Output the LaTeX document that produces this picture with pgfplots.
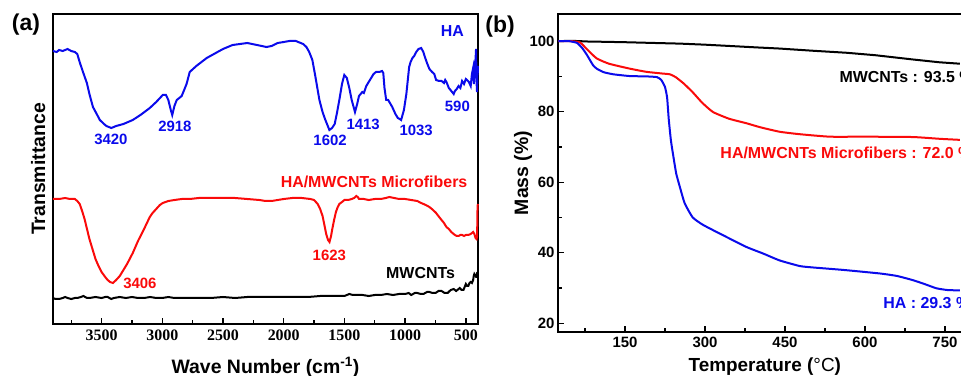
\documentclass[border=0pt]{standalone}
\usepackage{pgfplots}
\pgfplotsset{compat=1.18}
\usepackage{fontspec}
\setmainfont{Liberation Sans}
\newfontfamily\serifnum{Liberation Serif}
\definecolor{myblue}{RGB}{10,10,235}
\definecolor{myred}{RGB}{250,10,10}
\begin{document}
\begin{tikzpicture}
\path[use as bounding box] (0,0) rectangle (961bp,376bp);
\clip (0,0) rectangle (961bp,376bp);
% ---------------- panel (a) ----------------
\begin{axis}[
  at={(53bp,52bp)}, anchor=south west, scale only axis,
  width=425bp, height=310bp,
  xmin=400, xmax=3900, x dir=reverse, ymin=0, ymax=310,
  xtick={0,500,...,4000}, minor x tick num=1, ytick=\empty,
  xtick pos=bottom,
  tick align=inside, major tick length=6bp, minor tick length=4bp,
  axis line style={line width=1.6bp},
  every tick/.style={line width=1.3bp, black},
  /pgf/number format/1000 sep={}, /pgf/number format/assume math mode=true,
  xticklabel style={font=\fontsize{16}{16}\selectfont\serifnum\bfseries, yshift=-2bp},
  clip=false,
  xlabel={\fontsize{19.5}{20}\selectfont\bfseries Wave Number (cm\textsuperscript{-1})},
  xlabel style={at={(rel axis cs:0.5,-0.139)}, anchor=center},
  ylabel={\fontsize{19.5}{20}\selectfont\bfseries Transmittance},
  ylabel style={at={(rel axis cs:-0.035,0.5)}, anchor=center},
]
\addplot[myblue, line width=2bp] coordinates {
(3900,273)(3870,272)(3850,274)(3820,273)(3780,275)(3750,273)(3720,272)(3700,270)
(3678,261)(3650,251)(3621,241)(3600,230)(3571,217)(3540,210)(3514,204)(3480,200)(3460,198)
(3420,196)(3380,198)(3320,200)(3243,204)(3180,209)(3103,216)(3050,222)(2996,229)(2970,229)
(2950,224)(2930,214)(2918,209)(2900,218)(2881,224)(2860,226)(2840,228)(2800,240)(2774,252)
(2720,258)(2634,266)(2560,271)(2500,275)(2421,279)(2360,280)(2300,281)(2220,279)(2142,277)
(2100,278)(2050,281)(2000,282)(1953,283)(1900,283)(1880,282)(1840,280)(1813,277)(1790,272)
(1764,264)(1740,248)(1706,224)(1680,212)(1660,205)(1640,199)(1624,194)(1602,196)(1580,200)
(1560,212)(1542,224)(1520,240)(1501,249)(1480,246)(1460,236)(1440,224)(1413,212)(1395,220)
(1380,228)(1353,232)(1340,231)(1320,238)(1290,244)(1260,250)(1240,252)(1213,252)(1190,253)
(1180,251)(1170,236)(1156,224)(1140,224)(1130,222)(1106,217)(1080,210)(1060,206)(1045,205)
(1033,204)(1010,214)(990,230)(967,257)(955,262)(940,266)(925,268)(909,272)(890,275)(868,276)
(850,272)(840,268)(820,261)(800,255)(778,252)(760,250)(745,244)(720,243)(700,243)(680,241)
(670,244)(660,242)(640,236)(613,232)(600,230)(590,233)(575,235)(560,238)(545,236)(531,243)
(515,240)(500,245)(490,244)(475,242)(460,238)(450,250)(440,256)(434,240)(430,248)(424,262)
(420,265)(416,275)(412,243)(408,232)(405,245)(402,258)(400,251)
};
\addplot[myred, line width=2bp] coordinates {
(3900,125)(3850,125)(3800,126)(3760,125)(3720,125)(3700,123)(3680,120)(3660,113)(3640,105)
(3620,95)(3600,85)(3575,75)(3550,65)(3525,58)(3500,52)(3470,47)(3450,44)(3430,42)(3406,41)
(3380,44)(3350,48)(3320,54)(3290,60)(3260,67)(3243,71)(3200,83)(3150,95)(3103,107)(3080,111)
(3050,115)(3020,119)(2996,121)(2950,123)(2900,124)(2840,125)(2774,125)(2700,126)(2600,126)
(2500,126)(2400,126)(2300,125)(2200,124)(2150,123)(2100,123)(2050,124)(2000,125)(1930,126)
(1850,126)(1780,125)(1750,124)(1720,120)(1700,115)(1680,108)(1665,99)(1650,90)(1635,84)
(1623,82)(1610,88)(1600,95)(1585,104)(1570,112)(1555,117)(1542,120)(1520,122)(1500,124)
(1470,124)(1440,125)(1420,126)(1402,128)(1390,127)(1380,125)(1340,125)(1300,124)(1250,125)
(1200,125)(1160,126)(1130,127)(1090,126)(1050,125)(1000,125)(950,124)(900,123)(868,121)
(830,119)(800,117)(770,114)(745,111)(720,107)(700,104)(680,101)(660,97)(640,95)(620,92)
(600,90)(590,89)(575,88)(560,88)(545,89)(531,89)(515,88)(500,89)(480,89)(460,90)(440,92)
(430,90)(420,86)(412,85)(407,88)(405,110)(403,118)(401,120)
};
\addplot[black, line width=2bp] coordinates {
(3900,26)(3880,25)(3850,25)(3820,26)(3800,27)(3780,26)(3750,25)(3720,26)(3700,26)(3670,27)
(3650,28)(3620,26)(3600,26)(3550,27)(3500,26)(3470,27)(3450,27)(3420,25)(3400,26)(3350,27)
(3300,26)(3250,27)(3200,26)(3150,26)(3100,27)(3050,26)(3000,26)(2950,27)(2900,26)(2850,26)
(2800,26)(2700,26)(2600,26)(2500,27)(2400,26)(2300,27)(2200,27)(2100,27)(2000,27)(1900,27)
(1800,27)(1700,28)(1600,28)(1550,28)(1500,28)(1460,30)(1430,29)(1400,29)(1350,29)(1300,28)
(1250,29)(1200,29)(1150,30)(1100,29)(1050,30)(1000,30)(970,31)(950,29)(920,31)(900,31)
(870,30)(850,30)(820,32)(800,32)(775,31)(750,31)(725,33)(700,33)(675,31)(650,31)(625,34)
(600,35)(580,33)(560,35)(550,36)(535,34)(520,34)(510,37)(500,40)(490,38)(480,38)(470,41)
(460,42)(450,41)(440,44)(435,48)(430,50)(425,49)(420,49)(415,47)(410,47)(407,51)(405,52)
};
\node[myblue, font=\fontsize{16}{16}\selectfont\bfseries] at (axis cs:611,293) {HA};
\node[myblue, font=\fontsize{15}{15}\selectfont\bfseries] at (axis cs:3423,185) {3420};
\node[myblue, font=\fontsize{15}{15}\selectfont\bfseries] at (axis cs:2896,198) {2918};
\node[myblue, font=\fontsize{15}{15}\selectfont\bfseries] at (axis cs:1618,184) {1602};
\node[myblue, font=\fontsize{15}{15}\selectfont\bfseries] at (axis cs:1346,200) {1413};
\node[myblue, font=\fontsize{15}{15}\selectfont\bfseries] at (axis cs:909,194) {1033};
\node[myblue, font=\fontsize{15}{15}\selectfont\bfseries] at (axis cs:570,218) {590};
\node[myred, font=\fontsize{16}{16}\selectfont\bfseries] at (axis cs:1256,142) {HA/MWCNTs Microfibers};
\node[myred, font=\fontsize{15}{15}\selectfont\bfseries] at (axis cs:3184,41) {3406};
\node[myred, font=\fontsize{15}{15}\selectfont\bfseries] at (axis cs:1624,69) {1623};
\node[black, font=\fontsize{16}{16}\selectfont\bfseries] at (axis cs:873,51) {MWCNTs};
\end{axis}
% ---------------- panel (b) ----------------
\begin{axis}[
  at={(558bp,44bp)}, anchor=south west, scale only axis,
  width=413.6bp, height=318bp,
  xmin=24.4, xmax=800, ymin=17.5, ymax=107.7,
  xtick={0,150,...,900}, minor x tick num=1,
  ytick={0,20,...,120}, minor y tick num=1,
  xtick pos=bottom, ytick pos=left,
  tick align=inside, major tick length=6bp, minor tick length=4bp,
  axis line style={line width=1.6bp},
  every tick/.style={line width=1.3bp, black},
  /pgf/number format/assume math mode=true,
  ticklabel style={font=\fontsize{15}{15}\selectfont\bfseries},
  xticklabel style={yshift=-2bp},
  clip=false,
  xlabel={\fontsize{19}{20}\selectfont\bfseries Temperature ({\mdseries °C})},
  xlabel style={at={(rel axis cs:0.5,-0.110)}, anchor=center},
  ylabel={\fontsize{19.5}{20}\selectfont\bfseries Mass (\%)},
  ylabel style={at={(rel axis cs:-0.0846,0.5)}, anchor=center},
]
\addplot[black, line width=2bp] coordinates {
(25,100)(50,100.1)(80,99.9)(116,99.8)(150,99.7)(200,99.5)(253,99.3)(300,99.0)(350,98.6)
(400,98.2)(440,97.9)(500,97.3)(566,96.7)(620,96.0)(690,94.8)(740,94.0)(778,93.6)
};
\addplot[myred, line width=2bp, smooth, tension=0.3] coordinates {
(25,100)(50,100)(66,99.6)(80,97.5)(97,95.1)(120,93.6)(159,92.2)(190,91.3)(221,90.8)
(234,90.6)(245,89.8)(260,88.0)(277,85.5)(295,82.5)(315,79.9)(345,78.0)(378,76.7)(403,75.6)
(440,74.3)(478,73.6)(534,72.9)(600,72.9)(690,72.8)(740,72.3)(778,72.0)
};
\addplot[myblue, line width=2bp, smooth, tension=0.3] coordinates {
(25,100)(45,100)(60,99.5)(70,98)(79,96)(90,93.2)(97,92.2)(110,91.2)(128,90.6)(159,90.1)
(190,90.0)(210,89.8)(218,89.0)(225,87)(229,84)(232,78)(236,72)(240,68)(246,62.5)(253,58.6)
(262,54)(277,50)(295,48)(315,46.4)(341,44.4)(378,41.6)(410,39.7)(440,37.8)(478,36.2)
(503,35.8)(560,35.1)(628,34.1)(660,33.4)(690,32.2)(710,31.2)(734,29.9)(755,29.4)(778,29.3)
};
\node[black, anchor=west, font=\fontsize{16}{16}\selectfont\bfseries] at (axis cs:545.7,89.8) {MWCNTs : 93.5 \%};
\node[myred, anchor=west, font=\fontsize{16}{16}\selectfont\bfseries] at (axis cs:322.5,68.2) {HA/MWCNTs Microfibers : 72.0 \%};
\node[myblue, anchor=west, font=\fontsize{16}{16}\selectfont\bfseries] at (axis cs:628,25.7) {HA : 29.3 \%};
\end{axis}
\node[font=\fontsize{23}{23}\selectfont\bfseries] at (26bp,351bp) {(a)};
\node[font=\fontsize{23}{23}\selectfont\bfseries] at (500bp,349bp) {(b)};
\end{tikzpicture}
\end{document}
